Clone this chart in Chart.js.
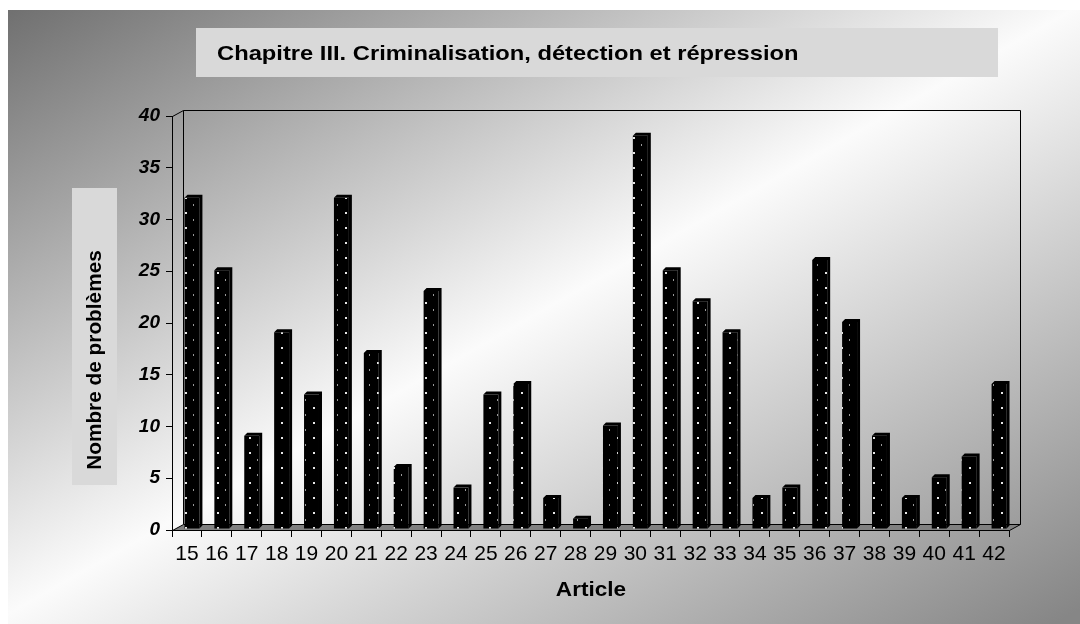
<!DOCTYPE html>
<html lang="fr">
<head>
<meta charset="UTF-8">
<title>Chapitre III. Criminalisation, détection et répression</title>
<script src="https://cdn.jsdelivr.net/npm/chart.js"></script>
<style>
    html, body { margin: 0; padding: 0; background: #fff; }
    #wrap { width: 1080px; height: 624px; }
</style>
</head>
<body>
<div id="wrap"><canvas id="chart" width="1080" height="624"></canvas></div>
<script>
const articles = ['15','16','17','18','19','20','21','22','23','24','25','26','27','28',
                  '29','30','31','32','33','34','35','36','37','38','39','40','41','42'];
const problemes = [32, 25, 9, 19, 13, 32, 17, 6, 23, 4, 13, 14, 3, 1,
                   10, 38, 25, 22, 19, 3, 4, 26, 20, 9, 3, 5, 7, 14];
const yTicks = [0, 5, 10, 15, 20, 25, 30, 35, 40];
const chartTitle = 'Chapitre III. Criminalisation, détection et répression';
const yTitle = 'Nombre de problèmes';
const xTitle = 'Article';

const FONT = 'Arial, "Liberation Sans", sans-serif';
const STRETCH = 1.13;              // le texte d'origine est un peu élargi
const DEPTH_X = 11, DEPTH_Y = 6;   // profondeur du mur
const BAR_DX = 5, BAR_DY = -1;     // barres placées au milieu de la profondeur
const BAR_D = 3;                   // épaisseur visible des barres

// motif noir à points blancs
function dotPattern() {
    const c = document.createElement('canvas');
    c.width = 16; c.height = 15;
    const g = c.getContext('2d');
    g.fillStyle = '#000';
    g.fillRect(0, 0, 16, 15);
    g.fillStyle = '#e6e6e6';
    g.fillRect(4, 3, 2, 2);
    g.fillStyle = '#9a9a9a';
    g.fillRect(12, 10, 1, 2);
    return g.createPattern(c, 'repeat');
}

function wideText(ctx, text, x, y, align, stretch) {
    ctx.save();
    ctx.translate(x, y);
    ctx.scale(stretch, 1);
    ctx.textAlign = align;
    ctx.fillText(text, 0, 0);
    ctx.restore();
}

const fondPlugin = {
    id: 'fond',
    beforeDraw(chart) {
        const ctx = chart.ctx;
        const W = chart.width, H = chart.height;
        ctx.save();
        ctx.fillStyle = '#fff';
        ctx.fillRect(0, 0, W, H);
        // dégradé diagonal : gris en haut à gauche, blanc au milieu, gris en bas à droite
        const cx = 540, cy = 312, ux = 0.4937, uy = 0.8697, k = 525;
        const grad = ctx.createLinearGradient(cx - k * ux, cy - k * uy, cx + k * ux, cy + k * uy);
        grad.addColorStop(0, '#707070');
        grad.addColorStop(0.5, '#fbfbfb');
        grad.addColorStop(1, '#868686');
        ctx.fillStyle = grad;
        ctx.fillRect(8, 10, W - 8, H - 10);

        ctx.textBaseline = 'middle';

        // titre
        ctx.fillStyle = '#d9d9d9';
        ctx.fillRect(196, 28, 802, 49);
        ctx.fillStyle = '#000';
        ctx.font = 'bold 21px ' + FONT;
        wideText(ctx, chartTitle, 217, 54, 'left', STRETCH);

        // titre de l'axe Y
        ctx.fillStyle = '#d9d9d9';
        ctx.fillRect(72, 188, 45, 297);
        ctx.save();
        ctx.translate(95, 360);
        ctx.rotate(-Math.PI / 2);
        ctx.fillStyle = '#000';
        ctx.font = 'bold 20px ' + FONT;
        wideText(ctx, yTitle, 0, 0, 'center', 1.04);
        ctx.restore();

        // titre de l'axe X
        ctx.fillStyle = '#000';
        ctx.font = 'bold 20px ' + FONT;
        wideText(ctx, xTitle, 591, 590, 'center', STRETCH);
        ctx.restore();
    },
    beforeDatasetsDraw(chart) {
        const ctx = chart.ctx;
        const a = chart.chartArea;
        ctx.save();
        ctx.strokeStyle = '#000';
        ctx.lineWidth = 1;
        // mur du fond et mur de gauche
        ctx.beginPath();
        ctx.moveTo(a.left + 0.5, a.top + 0.5);
        ctx.lineTo(a.left + DEPTH_X + 0.5, a.top - DEPTH_Y + 0.5);
        ctx.lineTo(a.right + DEPTH_X + 0.5, a.top - DEPTH_Y + 0.5);
        ctx.lineTo(a.right + DEPTH_X + 0.5, a.bottom - DEPTH_Y + 0.5);
        ctx.moveTo(a.left + DEPTH_X + 0.5, a.top - DEPTH_Y + 0.5);
        ctx.lineTo(a.left + DEPTH_X + 0.5, a.bottom - DEPTH_Y + 0.5);
        ctx.stroke();
        // plancher
        ctx.beginPath();
        ctx.moveTo(a.left + 0.5, a.bottom + 0.5);
        ctx.lineTo(a.right + 0.5, a.bottom + 0.5);
        ctx.lineTo(a.right + DEPTH_X + 0.5, a.bottom - DEPTH_Y + 0.5);
        ctx.lineTo(a.left + DEPTH_X + 0.5, a.bottom - DEPTH_Y + 0.5);
        ctx.closePath();
        ctx.fillStyle = '#808080';
        ctx.fill();
        ctx.stroke();
        ctx.restore();

        ctx.save();
        ctx.translate(BAR_DX, BAR_DY);
    },
    afterDatasetsDraw(chart) {
        const ctx = chart.ctx;
        const meta = chart.getDatasetMeta(0);
        ctx.fillStyle = '#000';
        meta.data.forEach(bar => {
            const p = bar.getProps(['x', 'y', 'base', 'width'], true);
            const l = p.x - p.width / 2, r = p.x + p.width / 2;
            ctx.beginPath();
            ctx.moveTo(l, p.y);
            ctx.lineTo(l + BAR_D, p.y - BAR_D);
            ctx.lineTo(r + BAR_D, p.y - BAR_D);
            ctx.lineTo(r + BAR_D, p.base - BAR_D);
            ctx.lineTo(r, p.base);
            ctx.lineTo(r, p.y);
            ctx.closePath();
            ctx.fill();
        });
        ctx.restore();
    }
};

new Chart(document.getElementById('chart'), {
    type: 'bar',
    data: {
        labels: articles,
        datasets: [{
            data: problemes,
            backgroundColor: dotPattern(),
            borderWidth: 0,
            barPercentage: 0.5,
            categoryPercentage: 1
        }]
    },
    options: {
        responsive: false,
        animation: false,
        devicePixelRatio: 1,
        layout: { padding: { top: 116, right: 71, left: 0, bottom: 0 } },
        plugins: {
            legend: { display: false },
            tooltip: { enabled: false }
        },
        scales: {
            x: {
                offset: true,
                grid: { offset: true, drawOnChartArea: false, color: '#000', tickLength: 7 },
                border: { color: '#000' },
                ticks: {
                    color: '#000', autoSkip: false, maxRotation: 0, padding: 5,
                    font: { family: FONT, size: 21 }
                },
                afterFit(scale) { scale.height = 94; }
            },
            y: {
                min: 0,
                max: 40,
                afterBuildTicks(scale) { scale.ticks = yTicks.map(v => ({ value: v })); },
                grid: { drawOnChartArea: false, color: '#000', tickLength: 6 },
                border: { color: '#000' },
                ticks: {
                    color: '#000', padding: 6,
                    font: { family: FONT, size: 19, weight: 'bold', style: 'italic' }
                },
                afterFit(scale) { scale.width = 172; }
            }
        }
    },
    plugins: [fondPlugin]
});
</script>
</body>
</html>
